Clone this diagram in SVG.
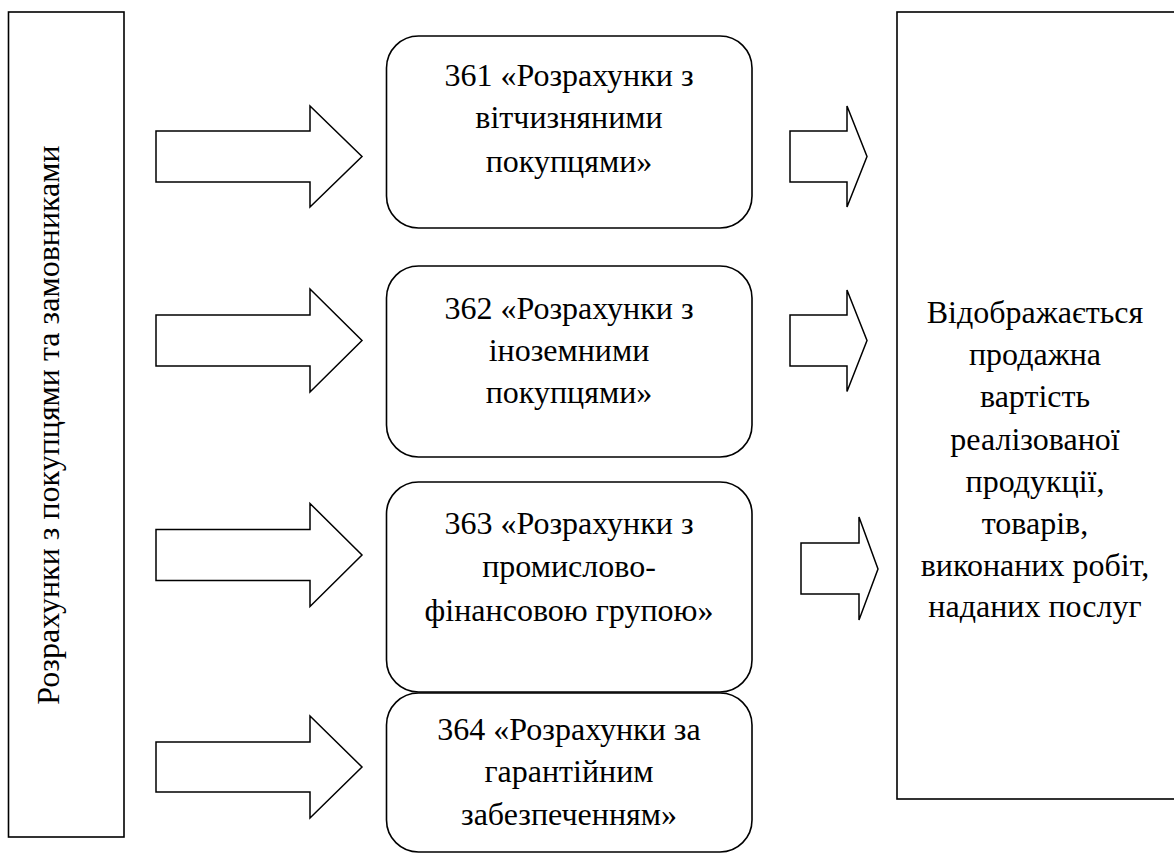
<svg xmlns="http://www.w3.org/2000/svg" width="1174" height="854" viewBox="0 0 1174 854">
<rect width="1174" height="854" fill="#fff"/>
<g font-family="Liberation Serif, Times New Roman, serif" font-size="32" text-anchor="middle" fill="#000">
<g id="left">
<rect x="8.5" y="12" width="115.5" height="825" fill="#fff" stroke="#000" stroke-width="1.6"/>
<text transform="translate(59,425) rotate(-90)">Розрахунки з покупцями та замовниками</text>
</g>
<g id="n361">
<rect x="386.5" y="36" width="365.5" height="192" rx="32" ry="32" fill="#fff" stroke="#000" stroke-width="1.6"/>
<text x="569" y="86">361 «Розрахунки з</text>
<text x="569" y="128">вітчизняними</text>
<text x="569" y="172">покупцями»</text>
</g>
<g id="n362">
<rect x="386.5" y="266" width="365.5" height="191" rx="32" ry="32" fill="#fff" stroke="#000" stroke-width="1.6"/>
<text x="569" y="319">362 «Розрахунки з</text>
<text x="569" y="361">іноземними</text>
<text x="569" y="403">покупцями»</text>
</g>
<g id="n363">
<rect x="386.5" y="482" width="365.5" height="210" rx="32" ry="32" fill="#fff" stroke="#000" stroke-width="1.6"/>
<text x="569" y="534">363 «Розрахунки з</text>
<text x="569" y="577">промислово-</text>
<text x="569" y="621">фінансовою групою»</text>
</g>
<g id="n364">
<rect x="386.5" y="693" width="365.5" height="159" rx="32" ry="32" fill="#fff" stroke="#000" stroke-width="1.6"/>
<text x="569" y="740">364 «Розрахунки за</text>
<text x="569" y="782">гарантійним</text>
<text x="569" y="825">забезпеченням»</text>
</g>
<g id="right">
<rect x="897" y="12" width="290" height="787" fill="#fff" stroke="#000" stroke-width="1.6"/>
<text x="1035" y="323">Відображається</text>
<text x="1035" y="365">продажна</text>
<text x="1035" y="407">вартість</text>
<text x="1035" y="450">реалізованої</text>
<text x="1035" y="492">продукції,</text>
<text x="1035" y="534">товарів,</text>
<text x="1035" y="576">виконаних робіт,</text>
<text x="1035" y="617">наданих послуг</text>
</g>
</g>
<g id="connectors" fill="#fff" stroke="#000" stroke-width="1.5">
<polygon points="156,131 310,131 310,106 362,156.5 310,207 310,182 156,182"/>
<polygon points="156,315 310,315 310,289 362,340.5 310,392 310,366 156,366"/>
<polygon points="156,529.5 310,529.5 310,503.5 362,555 310,606.5 310,580.5 156,580.5"/>
<polygon points="156,742 310,742 310,716 362,767 310,818 310,792 156,792"/>
<polygon points="790,131 847,131 847,106 867,156.5 847,207 847,182 790,182"/>
<polygon points="790,315 847,315 847,290 867,340.5 847,391.5 847,366 790,366"/>
<polygon points="801,543 859,543 859,517 878,569 859,620 859,594 801,594"/>
</g>
</svg>
